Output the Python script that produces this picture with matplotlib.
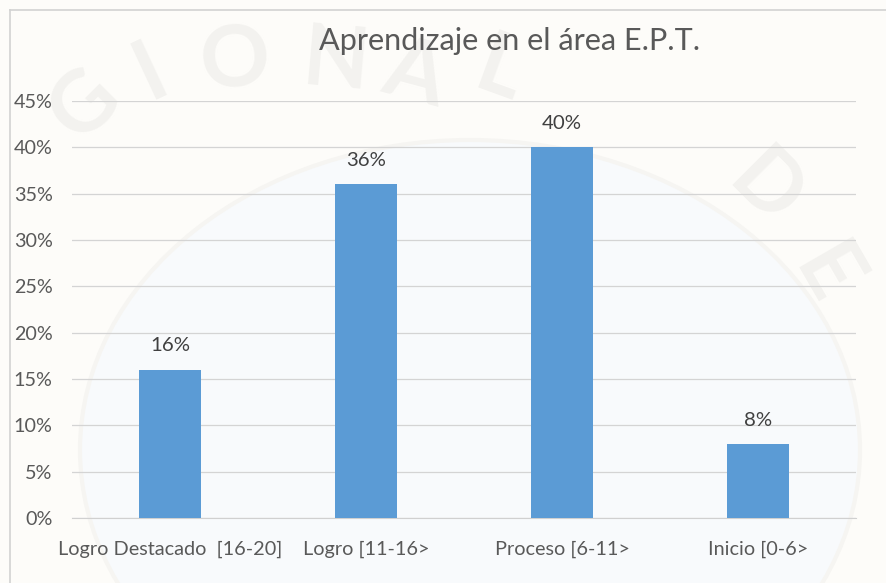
import matplotlib
matplotlib.use('Agg')
from matplotlib import pyplot as plt
from matplotlib.patches import Ellipse

categories = ['Logro Destacado  [16-20]', 'Logro [11-16>', 'Proceso [6-11>', 'Inicio [0-6>']
values = [16, 36, 40, 8]
value_labels = ['16%', '36%', '40%', '8%']
ticks = [0, 5, 10, 15, 20, 25, 30, 35, 40, 45]

# faint seal letters behind the chart: letter, x px, y px, rotation
seal_letters = ['G', 'I', 'O', 'N', 'A', 'L', 'D', 'E']
seal_x = [85, 150, 235, 335, 415, 500, 765, 825]
seal_y = [105, 72, 62, 62, 75, 72, 190, 275]
seal_rot = [45, 25, 5, -5, -15, -20, -45, -60]

plt.rcParams['font.family'] = ['Lato', 'DejaVu Sans']

W, H = 886, 583
fig = plt.figure(figsize=(W/100, H/100), dpi=100, facecolor='#fdfcf9')

# pale seal interior and letters
fig.add_artist(Ellipse((470/W, 1-450/H), 780/W, 620/H, facecolor='#f8fafc', edgecolor='#f6f5f2', linewidth=3, zorder=-5))
for c, sx, sy, r in zip(seal_letters, seal_x, seal_y, seal_rot):
	fig.text(sx/W, 1-sy/H, c, fontsize=62, color='#f3f2ef', ha='center', va='center', rotation=r, fontweight='bold', zorder=-4)

# axes box measured in pixels: y=0 at 518, 45% at 101
left, right, top, bottom = 72, 856, 101, 518
ax = fig.add_axes([left/W, 1-bottom/H, (right-left)/W, (bottom-top)/H])
ax.set_facecolor('none')

x = range(len(categories))
ax.bar(x, values, width=0.313, color='#5b9bd5', zorder=3)
ax.set_xlim(-0.5, 3.5)
ax.set_ylim(0, 45)
ax.set_yticks(ticks)
ax.set_yticklabels([str(t)+'%' for t in ticks], fontsize=14.2, color='#595959')
ax.set_xticks(list(x))
ax.set_xticklabels(categories, fontsize=14.3, color='#595959')
ax.tick_params(axis='x', length=0, pad=16.5)
ax.tick_params(axis='y', length=0, pad=14)
ax.grid(axis='y', color='#d4d4d4', linewidth=0.9, zorder=0)
for s in ['top', 'right', 'left']:
	ax.spines[s].set_visible(False)
ax.spines['bottom'].set_color('#d0d0d0')

for i in x:
	ax.annotate(value_labels[i], (i, values[i]), xytext=(0, 11), textcoords='offset points',
		ha='center', va='bottom', fontsize=14.7, color='#404040')

fig.text(510/W, 1-41/H, 'Aprendizaje en el área E.P.T.', ha='center', va='center', fontsize=22.1, color='#595959')

# chart frame line at the top and left of the picture
fig.add_artist(plt.Line2D([10/W, 1], [1-10/H, 1-10/H], color='#d2d2d2', linewidth=1.2))
fig.add_artist(plt.Line2D([10/W, 10/W], [0, 1-10/H], color='#d2d2d2', linewidth=1.2))

fig.savefig('out.png', dpi=100, facecolor=fig.get_facecolor())
